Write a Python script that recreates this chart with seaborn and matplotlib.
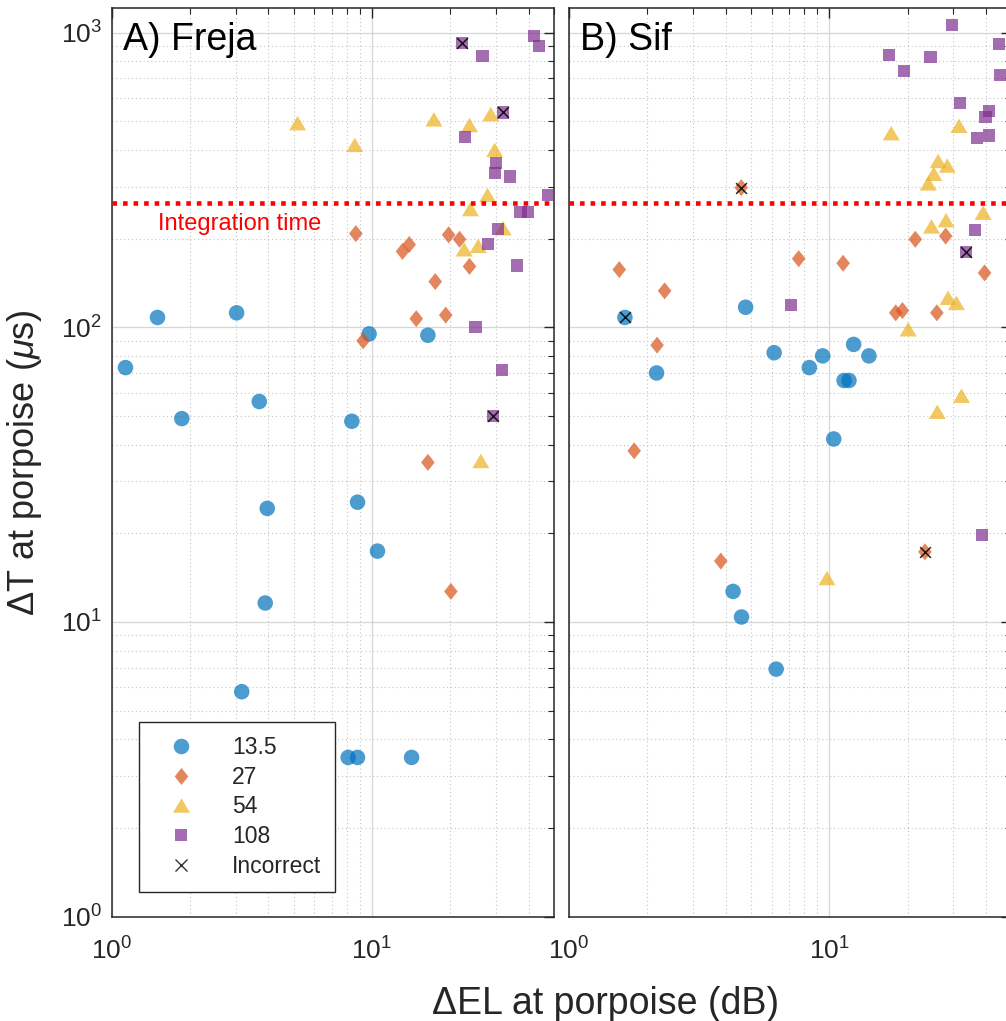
import numpy as np
import pandas as pd
import matplotlib
matplotlib.use("Agg")
import matplotlib.pyplot as plt
import seaborn as sns
from matplotlib.lines import Line2D
from matplotlib.markers import MarkerStyle
from matplotlib.ticker import LogLocator, NullFormatter

# Panel A, Freja: delta EL (dB) and delta T (us) per click frequency (kHz)
freja_135_el = [1.50, 3.02, 1.13, 9.75, 16.4, 3.69, 1.86, 8.37, 3.96, 8.80, 10.5, 3.89, 3.16, 8.10, 8.80, 14.2]
freja_135_dt = [108, 112, 73, 95, 94, 56, 49, 48, 24.3, 25.5, 17.4, 11.6, 5.8, 3.47, 3.47, 3.47]
freja_27_el = [8.67, 13.9, 13.1, 19.7, 21.7, 23.7, 17.5, 14.8, 19.2, 9.25, 16.4, 20.1]
freja_27_dt = [208, 191, 181, 206, 199, 161, 143, 107, 110, 90, 34.8, 12.7]
freja_54_el = [5.18, 8.59, 17.3, 23.7, 28.6, 29.6, 27.8, 23.9, 31.9, 22.6, 25.6, 26.2]
freja_54_dt = [493, 416, 508, 486, 529, 400, 281, 252, 217, 184, 189, 35.2]
freja_108_el = [22.2, 26.6, 41.9, 43.8, 31.9, 22.7, 29.9, 29.6, 33.8, 47.4, 37.2, 39.7, 30.5, 27.9, 36.2, 25.0, 31.6, 29.2]
freja_108_dt = [921, 834, 975, 902, 536, 442, 360, 335, 325, 281, 247, 247, 215, 192, 162, 100.5, 71.6, 50]
freja_wrong_el = [22.2, 31.9, 29.2]
freja_wrong_dt = [921, 536, 50]

# Panel B, Sif
sif_135_el = [1.64, 4.77, 6.14, 2.17, 8.38, 9.43, 12.4, 14.2, 11.4, 11.9, 10.4, 4.27, 4.60, 6.25]
sif_135_dt = [108, 117, 82, 70, 73, 80, 87.5, 80, 66, 66, 41.8, 12.7, 10.4, 6.92]
sif_27_el = [4.59, 1.56, 2.33, 7.63, 11.3, 21.4, 28.0, 39.5, 18.0, 19.1, 25.9, 2.18, 1.78, 3.83, 23.3]
sif_27_dt = [298, 157, 133, 171, 165, 199, 204, 153, 112, 114, 112, 87, 38.1, 16.1, 17.3]
sif_54_el = [17.3, 31.5, 26.2, 28.4, 25.2, 24.0, 39.0, 24.7, 28.1, 28.6, 30.8, 20.1, 32.2, 26.0, 9.80]
sif_54_dt = [456, 483, 367, 354, 332, 308, 245, 220, 231, 126, 121, 98.5, 58.6, 51.7, 14.1]
sif_108_el = [29.7, 44.8, 45.5, 16.9, 19.4, 24.5, 31.8, 41.0, 39.8, 37.0, 41.0, 36.2, 33.6, 7.15, 38.5]
sif_108_dt = [1062, 914, 719, 841, 742, 826, 577, 542, 516, 440, 448, 214, 180, 119, 19.7]
sif_wrong_el = [1.64, 4.59, 23.3, 33.6]
sif_wrong_dt = [108, 298, 17.3, 180]

freqs = ["13.5", "27", "54", "108"]
integration_time = 265

palette = {"13.5": "#0072BD", "27": "#D95319", "54": "#EDB120", "108": "#7E2F8E"}
markers = {
    "13.5": MarkerStyle("o"),
    "27": MarkerStyle([(0, 1), (0.8, 0), (0, -1), (-0.8, 0), (0, 1)]),
    "54": MarkerStyle([(-1, -0.85), (1, -0.85), (0, 0.85), (-1, -0.85)]),
    "108": MarkerStyle("s"),
}
sizes = {"13.5": 125, "27": 150, "54": 150, "108": 77}


def make_frame(groups):
    rows = []
    for f, (el, dt) in zip(freqs, groups):
        rows += [{"el": e, "dt": t, "freq": f} for e, t in zip(el, dt)]
    return pd.DataFrame(rows)


freja = make_frame([(freja_135_el, freja_135_dt), (freja_27_el, freja_27_dt),
                    (freja_54_el, freja_54_dt), (freja_108_el, freja_108_dt)])
sif = make_frame([(sif_135_el, sif_135_dt), (sif_27_el, sif_27_dt),
                  (sif_54_el, sif_54_dt), (sif_108_el, sif_108_dt)])

sns.set_style("white")
plt.rcParams["font.family"] = ["Liberation Sans", "DejaVu Sans"]
plt.rcParams["mathtext.fontset"] = "custom"
plt.rcParams["mathtext.rm"] = "Liberation Sans"
plt.rcParams["mathtext.it"] = "Liberation Sans:italic"
plt.rcParams["mathtext.bf"] = "Liberation Sans:bold"

ink = "#262626"
fig = plt.figure(figsize=(10.06, 10.21), dpi=100)
axA = fig.add_axes([0.111, 0.1022, 0.4396, 0.8897])
axB = fig.add_axes([0.5656, 0.1022, 0.4396, 0.8897])

for ax, df, wel, wdt, name in [(axA, freja, freja_wrong_el, freja_wrong_dt, "A) Freja"),
                               (axB, sif, sif_wrong_el, sif_wrong_dt, "B) Sif")]:
    sns.scatterplot(data=df, x="el", y="dt", hue="freq", style="freq", size="freq",
                    hue_order=freqs, style_order=freqs, size_order=freqs,
                    palette=palette, markers=markers, sizes=sizes,
                    alpha=0.7, linewidth=0, legend=False, ax=ax, zorder=3)
    ax.scatter(wel, wdt, marker="x", s=60, c="black", linewidths=1.1, alpha=0.85, zorder=4)
    ax.axhline(integration_time, color="red", lw=3.3, ls=(0, (1, 1.3)), zorder=5)

    ax.set_xscale("log")
    ax.set_yscale("log")
    ax.set_xlim(1, 50)
    ax.set_ylim(1, 1210)
    for axis in (ax.xaxis, ax.yaxis):
        axis.set_major_locator(LogLocator(base=10, numticks=10))
        axis.set_minor_locator(LogLocator(base=10, subs=np.arange(2, 10), numticks=30))
        axis.set_minor_formatter(NullFormatter())
    ax.grid(True, which="major", color="#d6d6d6", lw=0.9, ls="-")
    ax.grid(True, which="minor", color="#c4c4c4", lw=0.8, ls=(0, (1, 2.5)))
    ax.set_axisbelow(True)
    ax.tick_params(which="both", direction="in", top=True, right=True, colors=ink,
                   labelsize=19)
    ax.tick_params(which="major", length=7, width=1)
    ax.tick_params(which="minor", length=4, width=0.8)
    ax.tick_params(axis="x", which="major", pad=15)
    ax.tick_params(axis="y", which="major", pad=7)
    for sp in ax.spines.values():
        sp.set_color(ink)
        sp.set_linewidth(1.1)
    ax.set_xlabel("")
    ax.set_ylabel("")
    ax.text(0.026, 0.954, name, transform=ax.transAxes, fontsize=27, color="black",
            ha="left", va="baseline")

axB.tick_params(axis="y", which="both", labelleft=False)

axA.text(0.1047, 0.756, "Integration time", transform=axA.transAxes, fontsize=17,
         color="red", ha="left", va="baseline")

axA.set_ylabel(r"ΔT at porpoise ($\mu$s)", fontsize=26, color=ink)
axA.yaxis.set_label_coords(-0.152, 0.5)
fig.text(606 / 1006, 1 - 1004 / 1021, "ΔEL at porpoise (dB)", fontsize=27, color=ink,
         ha="center", va="center")

handles = [Line2D([], [], ls="none", marker=markers[f], markersize=np.sqrt(sizes[f]),
                  markerfacecolor=palette[f], markeredgewidth=0, alpha=0.7, label=f)
           for f in freqs]
handles.append(Line2D([], [], ls="none", marker="x", color="#333333", markersize=8,
                      markeredgewidth=1, label="Incorrect"))
leg = axA.legend(handles=handles, loc="lower left", bbox_to_anchor=(0.0617, 0.0272),
                 frameon=True, fancybox=False, edgecolor=ink, framealpha=1,
                 fontsize=16.5, borderpad=0.6, labelspacing=0.3, handlelength=2.5,
                 handletextpad=0.95, borderaxespad=0)
leg.get_frame().set_linewidth(1)
leg.set_zorder(10)

fig.savefig("out.png", dpi=100)
